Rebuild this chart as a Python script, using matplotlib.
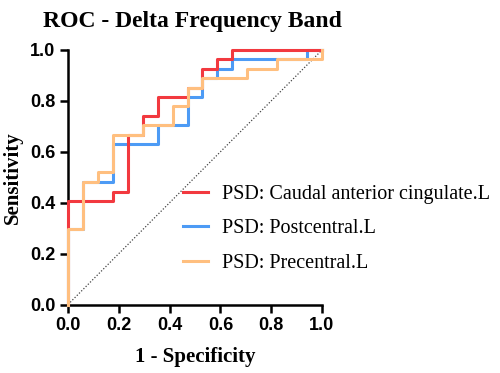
import numpy as np
import matplotlib
matplotlib.use("Agg")
import matplotlib.pyplot as plt

# Curvas ROC (1 - especificidade, sensibilidade)
red_x = [0, 0, 0.176, 0.176, 0.235, 0.235, 0.294, 0.294, 0.353, 0.353, 0.471, 0.471, 0.529, 0.529, 0.588, 0.588, 0.647, 0.647, 1.0]
red_y = [0, 0.407, 0.407, 0.444, 0.444, 0.667, 0.667, 0.741, 0.741, 0.815, 0.815, 0.852, 0.852, 0.926, 0.926, 0.963, 0.963, 1.0, 1.0]

blue_x = [0, 0, 0.059, 0.059, 0.176, 0.176, 0.353, 0.353, 0.471, 0.471, 0.529, 0.529, 0.588, 0.588, 0.647, 0.647, 0.941, 0.941, 1.0]
blue_y = [0, 0.296, 0.296, 0.481, 0.481, 0.630, 0.630, 0.704, 0.704, 0.815, 0.815, 0.889, 0.889, 0.926, 0.926, 0.963, 0.963, 1.0, 1.0]

orange_x = [0, 0, 0.059, 0.059, 0.118, 0.118, 0.176, 0.176, 0.294, 0.294, 0.412, 0.412, 0.471, 0.471, 0.529, 0.529, 0.706, 0.706, 0.824, 0.824, 1.0, 1.0]
orange_y = [0, 0.296, 0.296, 0.481, 0.481, 0.519, 0.519, 0.667, 0.667, 0.704, 0.704, 0.778, 0.778, 0.852, 0.852, 0.889, 0.889, 0.926, 0.926, 0.963, 0.963, 1.0]

labels = ["PSD: Caudal anterior cingulate.L", "PSD: Postcentral.L", "PSD: Precentral.L"]
ticks = [0.0, 0.2, 0.4, 0.6, 0.8, 1.0]

SERIF = "Liberation Serif"
SANS = "Liberation Sans"

fig = plt.figure(figsize=(5.0, 3.73), dpi=100)
ax = fig.add_axes([0.136, 0.1836, 0.508, 0.6824])

# Linha de referência (acaso)
ax.plot([0, 1], [0, 1], color="#444444", linestyle=(0, (1, 1.5)), linewidth=0.9, zorder=1)

l_blue, = ax.plot(blue_x, blue_y, color="#4D9BF5", linewidth=2.2, clip_on=False, zorder=2)
l_red, = ax.plot(red_x, red_y, color="#F2393F", linewidth=2.2, clip_on=False, zorder=3)
l_orange, = ax.plot(orange_x, orange_y, color="#FFBF7F", linewidth=2.2, clip_on=False, zorder=4)

ax.set_xlim(0, 1)
ax.set_ylim(0, 1)
ax.set_xticks(ticks)
ax.set_yticks(ticks)
ax.set_xticklabels([f"{t:.1f}" for t in ticks], fontfamily=SANS, fontweight="bold", fontsize=13)
ax.set_yticklabels([f"{t:.1f}" for t in ticks], fontfamily=SANS, fontweight="bold", fontsize=13)
ax.tick_params(direction="out", length=6, width=1.8, pad=3)

for side in ["top", "right"]:
    ax.spines[side].set_visible(False)
for side in ["left", "bottom"]:
    ax.spines[side].set_linewidth(1.8)

ax.set_xlabel("1 - Specificity", fontfamily=SERIF, fontweight="bold", fontsize=15, labelpad=9)
ax.set_ylabel("Sensitivity", fontfamily=SERIF, fontweight="bold", fontsize=15, labelpad=5)
fig.text(0.086, 0.97, "ROC - Delta Frequency Band", fontfamily=SERIF, fontweight="bold",
         fontsize=17, va="top", ha="left")

fig.legend([l_red, l_blue, l_orange], labels, loc="upper left", bbox_to_anchor=(0.35, 0.527),
           frameon=False, prop={"family": SERIF, "size": 14.5}, handlelength=1.25,
           handletextpad=0.7, labelspacing=0.78, borderaxespad=0)

fig.savefig("out.png", dpi=100)
